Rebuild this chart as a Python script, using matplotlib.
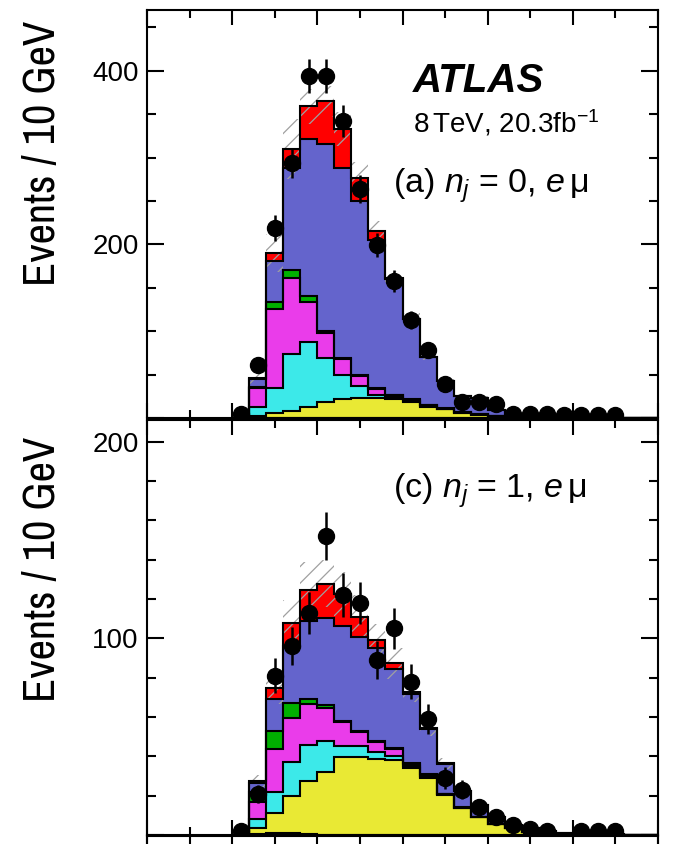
import numpy as np
import matplotlib
matplotlib.use("Agg")
import matplotlib.pyplot as plt
from matplotlib.ticker import MultipleLocator, FuncFormatter

# ---------------- data ----------------
edges = np.arange(60, 301, 10)          # m_T bins, 10 GeV
data_x = np.arange(55, 280, 10)         # data point bin centres

# panel (a): n_j = 0, e mu  (stack order bottom -> top)
a_other = [0, 0, 0, 0, 0, 0, 0, 0, 0, 0, 0, 0, 0, 0, 0, 0, 0, 0, 0, 0, 0, 0, 0, 0]
a_top = [2, 5.7, 8.4, 13, 18, 22, 23, 23.5, 22, 18, 13, 10, 6, 3.8, 2.2, 1.0, 0.6, 0.4, 0.3, 0.2, 0.15, 0.1, 0.1, 0.05]
a_misid = [11, 28.3, 65.6, 75, 51, 27, 14, 3.5, 2.5, 1.5, 0.7, 0.4, 0.3, 0.2, 0.1, 0, 0, 0, 0, 0, 0, 0, 0, 0]
a_vv = [21, 91, 87, 46, 29, 19, 11.5, 6.5, 2, 1.5, 1, 0.5, 0.3, 0.2, 0.1, 0, 0, 0, 0, 0, 0, 0, 0, 0]
a_dy = [2, 9, 9, 6, 2, 1, 0.5, 0.5, 0.5, 0.5, 0.3, 0.2, 0.1, 0.1, 0.1, 0, 0, 0, 0, 0, 0, 0, 0, 0]
a_ww = [9, 47, 118, 181, 216, 219, 201, 171, 133, 92.5, 55, 31, 18.2, 18.7, 7, 1.5, 0.9, 0.6, 0.4, 0.3, 0.25, 0.2, 0.1, 0.1]
a_sig = [1, 9, 22, 38, 49, 45, 27, 10, 1.5, 0.5, 0.3, 0.2, 0.1, 0.1, 0.1, 0, 0, 0, 0, 0, 0, 0, 0, 0]
a_unc = [8, 22, 35, 20, 18, 20, 18, 12, 8, 6, 4, 3, 2, 2, 1, 0.5, 0.3, 0.2, 0.1, 0.1, 0.1, 0.1, 0.1, 0.1]
a_data = [5, 61, 219, 294, 394, 394, 342, 264, 199, 158, 113, 78, 39, 18, 18, 16, 5, 5, 5, 4, 4, 4, 3]

# panel (c): n_j = 1, e mu
c_other = [0.5, 1.0, 1.0, 0.3, 0, 0, 0, 0, 0, 0, 0, 0, 0, 0, 0, 0, 0, 0, 0, 0, 0, 0, 0, 0]
c_top = [3.1, 10.1, 19, 27.1, 32.1, 39.7, 39.8, 38.8, 38.1, 34.2, 29.1, 20.5, 13.7, 9.1, 5.5, 3.4, 1.7, 0.9, 0.5, 0.3, 0.2, 0.15, 0.1, 0.05]
c_misid = [4.4, 10.6, 17.3, 18.4, 15.8, 5.6, 5.5, 3.6, 2.1, 0.8, 0.4, 0.1, 0.1, 0, 0, 0, 0, 0, 0, 0, 0, 0, 0, 0]
c_vv = [8.8, 22.2, 22.2, 20.9, 16.6, 12, 7.2, 5, 3.4, 1.2, 0.5, 0.2, 0.1, 0, 0, 0, 0, 0, 0, 0, 0, 0, 0, 0]
c_dy = [4.9, 9.1, 7.5, 2.5, 1.5, 0.7, 0.5, 0.4, 0.4, 0.3, 1.0, 0.2, 0.1, 0, 0, 0, 0, 0, 0, 0, 0, 0, 0, 0]
c_ww = [4.8, 16.2, 29, 39.8, 44.3, 48.5, 47.9, 47.4, 40.6, 35.3, 22.8, 15.2, 8.2, 5.9, 3.9, 1.7, 1.7, 1.1, 0.5, 0.3, 0.2, 0.15, 0.1, 0.05]
c_sig = [1, 5.5, 11.7, 15.8, 17.4, 16.1, 10.1, 3.9, 2.6, 0.8, 0.4, 0.2, 0.1, 0, 0, 0, 0, 0, 0, 0, 0, 0, 0, 0]
c_unc = [3, 8, 12, 14, 12, 11, 11, 8, 8, 5, 4, 3, 2, 1.5, 1, 0.5, 0.3, 0.2, 0.1, 0.1, 0.1, 0.1, 0.1, 0.1]
c_data = [2, 21, 81, 96, 113, 152, 122, 118, 89, 105, 78, 59, 29, 23, 14, 9, 5, 3, 2, 0, 2, 2, 2]

colors = ["white", "#e9e934", "#3ce9e9", "#ea3cea", "#00b000", "#6464cc", "#ff0000"]

# ---------------- style ----------------
plt.rcParams["font.family"] = ["Liberation Sans", "DejaVu Sans"]
plt.rcParams["mathtext.fontset"] = "custom"
plt.rcParams["mathtext.rm"] = "Liberation Sans"
plt.rcParams["mathtext.it"] = "Liberation Sans:italic"
plt.rcParams["mathtext.bf"] = "Liberation Sans:bold"
plt.rcParams["hatch.color"] = "#a0a0a0"
plt.rcParams["hatch.linewidth"] = 0.9

fig = plt.figure(figsize=(6.73, 8.44), dpi=100)
W, H = 673.0, 844.0
ax1 = fig.add_axes([147 / W, 1 - 418 / H, 511 / W, 408 / H])
ax2 = fig.add_axes([147 / W, 1 - 835 / H, 511 / W, 415 / H])


def style_x(ax):
    ax.set_xlim(0, 300)
    ax.xaxis.set_major_locator(MultipleLocator(50))
    ax.xaxis.set_minor_locator(MultipleLocator(25))
    ax.tick_params(axis="x", which="major", length=11, width=1.5)
    ax.tick_params(axis="x", which="minor", length=5.5, width=1.5)


def draw(ax, comps, unc, data, ymax, ymaj, ymin):
    base = np.zeros(len(edges) - 1)
    tops = []
    for vals, col in zip(comps, colors):
        top = base + np.asarray(vals, float)
        ax.stairs(top, edges, baseline=base, fill=True, facecolor=col,
                  edgecolor="none", lw=0, zorder=2)
        tops.append(top)
        base = top
    total = base
    unc = np.asarray(unc, float)
    ax.stairs(total + unc, edges, baseline=total - unc, fill=True,
              facecolor="none", edgecolor="#a0a0a0", hatch="//", lw=0, zorder=3)
    for top in tops:
        ax.stairs(top, edges, baseline=0, fill=False, color="black",
                  lw=1.5, zorder=4)
    d = np.asarray(data, float)
    m = d > 0
    ax.errorbar(data_x[m], d[m], yerr=np.sqrt(d[m]), fmt="o", color="black",
                ms=11.5, elinewidth=1.8, capsize=0, zorder=6)
    ax.set_ylim(0, ymax)
    ax.yaxis.set_major_locator(MultipleLocator(ymaj))
    ax.yaxis.set_minor_locator(MultipleLocator(ymin))
    ax.yaxis.set_major_formatter(FuncFormatter(lambda v, p: "" if v == 0 else f"{v:.0f}"))
    ax.tick_params(which="both", direction="in", top=True, right=True,
                   labelbottom=False, width=1.5, labelsize=20, pad=6)
    style_x(ax)
    ax.tick_params(axis="y", which="major", length=12)
    ax.tick_params(axis="y", which="minor", length=6.5)
    for s in ax.spines.values():
        s.set_linewidth(1.5)
        s.set_zorder(10)


draw(ax1, [a_other, a_top, a_misid, a_vv, a_dy, a_ww, a_sig], a_unc, a_data, 470, 200, 50)
draw(ax2, [c_other, c_top, c_misid, c_vv, c_dy, c_ww, c_sig], c_unc, c_data, 211, 100, 20)

# top edge of the next (cropped) panel below, only its inward ticks show
ax3 = fig.add_axes([147 / W, -0.3, 511 / W, 0.3 + 1 - 836 / H])
ax3.set_ylim(0, 1)
ax3.tick_params(which="both", direction="in", top=True, bottom=False,
                left=False, right=False, labelbottom=False, labelleft=False)
style_x(ax3)
for s in ax3.spines.values():
    s.set_linewidth(1.5)

# texts
ax1.text(413 / W, 1 - 92 / H, "ATLAS", transform=fig.transFigure, fontsize=29,
         fontweight="bold", fontstyle="italic", ha="left", va="baseline")
ax1.text(413 / W, 1 - 132 / H, r"8$\,$TeV, 20.3fb$^{-1}$", transform=fig.transFigure,
         fontsize=20, ha="left", va="baseline")
ax1.text(393 / W, 1 - 193 / H, r"(a) $n_j$ = 0, $e\,$μ", transform=fig.transFigure,
         fontsize=24.5, ha="left", va="baseline")
ax2.text(393 / W, 1 - 498 / H, r"(c) $n_j$ = 1, $e\,$μ", transform=fig.transFigure,
         fontsize=24.5, ha="left", va="baseline")

ylab_font = ["Archivo Narrow", "Liberation Sans", "DejaVu Sans"]
fig.text(43 / W, 1 - 21 / H, "Events / 10 GeV", rotation=90, ha="center", va="top",
         fontsize=32, family=ylab_font)
fig.text(43 / W, 1 - 437 / H, "Events / 10 GeV", rotation=90, ha="center", va="top",
         fontsize=32, family=ylab_font)

fig.savefig("out.png", dpi=100)
